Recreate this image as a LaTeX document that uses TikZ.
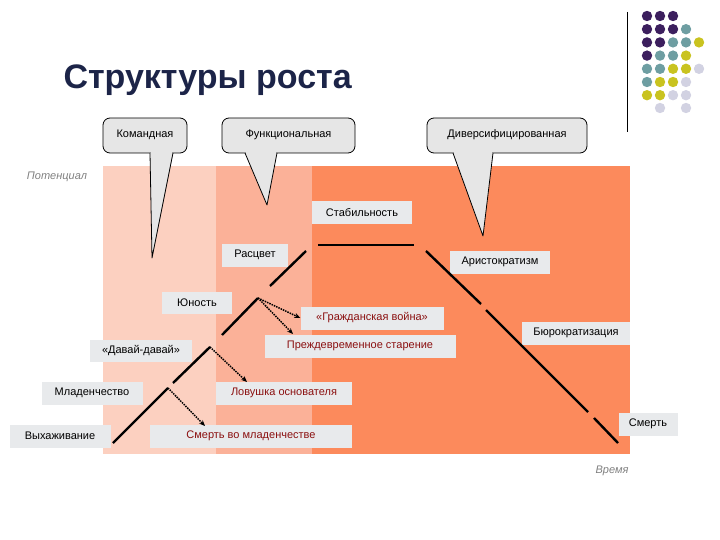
\documentclass[tikz,border=0pt]{standalone}
\usepackage{fontspec}
\setmainfont{Liberation Sans}
\usetikzlibrary{arrows.meta}
\definecolor{bA}{HTML}{FCD0C0}
\definecolor{bB}{HTML}{FBB198}
\definecolor{bC}{HTML}{FC8A5C}
\definecolor{lbl}{HTML}{E8EAEC}
\definecolor{cal}{HTML}{E6E6E6}
\definecolor{redt}{HTML}{8B1010}
\definecolor{ttl}{HTML}{1C2448}
\definecolor{dP}{HTML}{3C1F5E}
\definecolor{dT}{HTML}{6E9EA2}
\definecolor{dY}{HTML}{C9C320}
\definecolor{dL}{HTML}{D2D2E2}
\begin{document}
\begin{tikzpicture}[x=1pt,y=-1pt,
  lab/.style={fill=lbl,inner sep=0pt,font=\fontsize{11}{13}\selectfont},
  rlab/.style={lab,text=redt},
  seg/.style={line width=2.4pt,black},
  dot/.style={densely dotted,line width=1.5pt,-{Stealth[length=6pt,width=5pt]}},
  cbox/.style={fill=cal,draw=black,line width=0.8pt},
  ax/.style={text=gray,font=\fontsize{11}{13}\selectfont\itshape}]
\useasboundingbox (0,0) rectangle (720,540);
% bands
\fill[bA] (103,166) rectangle (216,454);
\fill[bB] (216,166) rectangle (312,454);
\fill[bC] (312,166) rectangle (630,454);
% title
\node[font=\fontsize{34}{40}\selectfont\bfseries,text=ttl,anchor=west] (title) at (60,80) {Структуры роста};
% decoration
\draw[line width=1pt] (627,12) -- (627,132);
\foreach \r/\cols in {0/{P,P,P},1/{P,P,P,T},2/{P,P,T,T,Y},3/{P,T,T,Y},4/{T,T,Y,Y,L},5/{T,Y,Y,L},6/{Y,Y,L,L}}{
  \foreach \c [count=\i from 0] in \cols {\fill[d\c] (647+13*\i,16+13.2*\r) circle (5.2);}}
\fill[dL] (660,108) circle (5.2); \fill[dL] (686,108) circle (5.2);
% callouts
\foreach \xa/\xb/\pl/\pr/\tx/\ty/\t/\n in {103/187/150/173/152/258/Командная/c1,222/355/245/277/267/205/Функциональная/c2,427/587/453/493/483/236/Диверсифицированная/c3}{
  \filldraw[cbox,rounded corners=7pt] (\xa,118) rectangle (\xb,153);
  \filldraw[cbox,line join=round] (\pl,153) -- (\tx,\ty) -- (\pr,153);
  \fill[cal] (\pl+0.6,150) rectangle (\pr-0.6,153.5);
  \node[font=\fontsize{11}{13}\selectfont] (\n) at ({(\xa+\xb)/2},135) {\t};
}
% axis labels
\node[ax] (pot) at (57,177) {Потенциал};
\node[ax] (time) at (612,471) {Время};
% labels
\node[lab,minimum width=100,minimum height=23] (stab) at (362,213) {Стабильность};
\node[lab,minimum width=66,minimum height=23] (ras) at (255,255) {Расцвет};
\node[lab,minimum width=100,minimum height=23] (ari) at (500,262) {Аристократизм};
\node[lab,minimum width=70,minimum height=22] (yun) at (197,303) {Юность};
\node[rlab,minimum width=143,minimum height=23] (gv) at (372,318) {«Гражданская война»};
\node[lab,minimum width=108,minimum height=23] (bur) at (576,333) {Бюрократизация};
\node[rlab,minimum width=191,minimum height=23] (ps) at (360,346) {Преждевременное старение};
\node[lab,minimum width=102,minimum height=22] (dd) at (141,351) {«Давай-давай»};
\node[lab,minimum width=101,minimum height=23] (ml) at (92,393) {Младенчество};
\node[rlab,minimum width=136,minimum height=23] (lo) at (284,393) {Ловушка основателя};
\node[lab,minimum width=101,minimum height=23] (vy) at (60,436) {Выхаживание};
\node[rlab,minimum width=202,minimum height=23] (sm) at (251,436) {Смерть во младенчестве};
\node[lab,minimum width=59,minimum height=23] (de) at (648,424) {Смерть};
% curve segments
\coordinate (a1) at (113,443); \coordinate (a2) at (168,388);
\coordinate (b1) at (173,383); \coordinate (b2) at (210,347);
\coordinate (c1s) at (222,335); \coordinate (c2s) at (258,298);
\coordinate (d1) at (270,286); \coordinate (d2) at (306,251);
\coordinate (e1) at (318,245); \coordinate (e2) at (414,245);
\coordinate (f1) at (426,251); \coordinate (f2) at (481,304);
\coordinate (g1) at (486,310); \coordinate (g2) at (588,412);
\coordinate (h1) at (594,418); \coordinate (h2) at (618,443);
\foreach \p/\q in {a1/a2,b1/b2,c1s/c2s,d1/d2,e1/e2,f1/f2,g1/g2,h1/h2}{\draw[seg] (\p) -- (\q);}
% dotted arrows
\draw[dot] (c2s) -- (gv.west);
\draw[dot] (c2s) -- (293,334);
\draw[dot] (b2) -- (247,382);
\draw[dot] (a2) -- (205,426);
\end{tikzpicture}
\end{document}
